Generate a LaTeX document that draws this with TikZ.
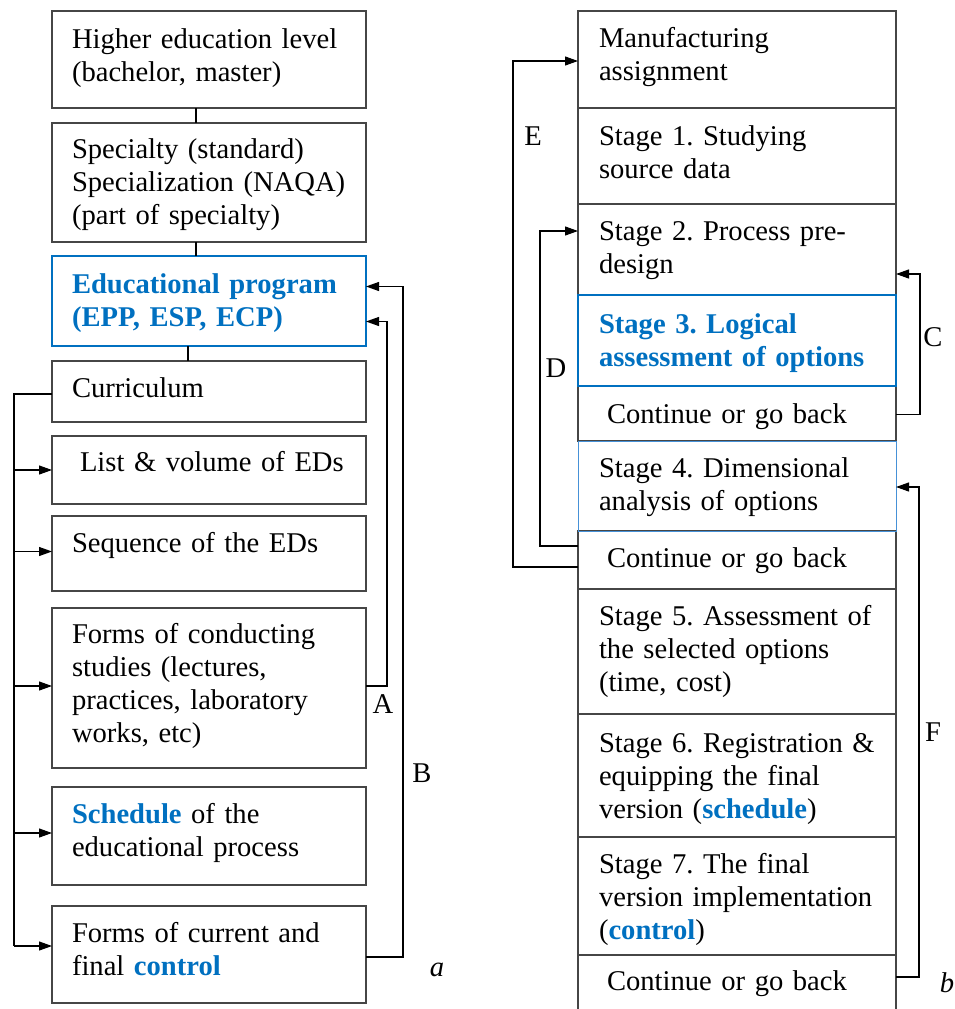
\documentclass[tikz,border=0pt]{standalone}
\usepackage{fontspec}
\setmainfont{Liberation Serif}
\usetikzlibrary{arrows.meta}
\definecolor{myblue}{RGB}{0,112,192}
\definecolor{lightblue}{RGB}{70,145,215}
\definecolor{boxgray}{RGB}{70,70,70}
\newcommand\mainf{\fontsize{28.6}{33}\selectfont\frenchspacing}
\begin{document}
\begin{tikzpicture}[x=1pt,y=-1pt,
  box/.style={draw=boxgray, line width=1.5pt, anchor=north west, inner sep=0pt, outer sep=0pt, minimum width=#1},
  box/.default=314pt,
  bbox/.style={box=#1, draw=myblue, line width=2.2pt},
  bbox/.default=314pt,
  lbbox/.style={box=#1, draw=lightblue, line width=0.9pt},
  lbbox/.default=318pt,
  txt/.style={anchor=north west, inner sep=0pt, outer sep=0pt, align=left, text width=300pt, font=\mainf, execute at begin node={\noindent\strut}},
  btxt/.style={txt, font=\mainf\bfseries, text=myblue},
  line/.style={draw=black, line width=1.1pt},
  arr/.style={line, -{Triangle[length=13pt,width=9pt]}},
  lbl/.style={inner sep=0pt, font=\mainf}
]
\useasboundingbox (0,0) rectangle (954,1009);
% ---------- left column ----------
\node[box, minimum height=97pt] (l1) at (52,11) {};
\node[box, minimum height=119pt] (l2) at (52,123) {};
\node[bbox, minimum height=90pt] (l3) at (52,256) {};
\node[box, minimum height=61pt] (l4) at (52,361) {};
\node[box, minimum height=68pt] (l5) at (52,436) {};
\node[box, minimum height=75pt] (l6) at (52,516) {};
\node[box, minimum height=160pt] (l7) at (52,608) {};
\node[box, minimum height=98pt] (l8) at (52,787) {};
\node[box, minimum height=97pt] (l9) at (52,906) {};

\node[txt] (l1t) at (72,24.9) {Higher education level\\(bachelor, master)};
\node[txt] (l2t) at (72,134.9) {Specialty (standard)\\Specialization (NAQA)\\(part of specialty)};
\node[btxt] (l3t) at (72,269.9) {Educational program\\(EPP, ESP, ECP)};
\node[txt] (l4t) at (72,373.9) {Curriculum};
\node[txt] (l5t) at (80,447.9) {List \& volume of EDs};
\node[txt] (l6t) at (72,528.9) {Sequence of the EDs};
\node[txt] (l7t) at (72,619.9) {Forms of conducting\\studies (lectures,\\practices, laboratory\\works, etc)};
\node[txt] (l8t) at (72,799.9) {{\color{myblue}\bfseries Schedule} of the\\educational process};
\node[txt] (l9t) at (72,918.9) {Forms of current and\\final {\color{myblue}\bfseries control}};

\draw[line] ([xshift=-13pt]l1.south) -- ([xshift=-13pt]l2.north);
\draw[line] ([xshift=-13pt]l2.south) -- ([xshift=-13pt]l3.north);
\draw[line] ([xshift=-21pt]l3.south) -- ([xshift=-21pt]l4.north);

\coordinate (bustop) at (14,394);
\coordinate (busbot) at (14,946);
\draw[line] ([yshift=-2.5pt]l4.west) -| (busbot);
\draw[arr] (l5.west -| bustop) -- (l5.west);
\draw[arr] ([yshift=2pt]l6.west -| bustop) -- ([yshift=2pt]l6.west);
\draw[arr] ([yshift=2pt]l7.west -| bustop) -- ([yshift=2pt]l7.west);
\draw[arr] ([yshift=3pt]l8.west -| bustop) -- ([yshift=3pt]l8.west);
\draw[arr] (busbot) -- (busbot -| l9.west);

\coordinate (Ax) at (387,500);
\coordinate (Bx) at (403,500);
\draw[arr] ([yshift=2pt]l7.east) -| (Ax) |- ([yshift=-20.5pt]l3.east);
\draw[arr] ([yshift=-2.5pt]l9.east) -| (Bx) |- ([yshift=14.5pt]l3.east);
\node[lbl] (labA) at (383,704) {A};
\node[lbl] (labB) at (422,773) {B};
\node[lbl] (laba) at (437,970) {\itshape a};

% ---------- right column ----------
\node[box=318pt, minimum height=97pt] (r0) at (578,11) {};
\node[box=318pt, minimum height=96pt] (r1) at (578,108) {};
\node[box=318pt, minimum height=91pt] (r2) at (578,204) {};
\node[box=318pt, minimum height=55pt] (r4) at (578,386) {};
\node[box=318pt, minimum height=58pt] (r6) at (578,531) {};
\node[box=318pt, minimum height=125pt] (r7) at (578,589) {};
\node[box=318pt, minimum height=123pt] (r8) at (578,714) {};
\node[box=318pt, minimum height=118pt] (r9) at (578,837) {};
\node[box=318pt, minimum height=62pt] (r10) at (578,955) {};
\node[lbbox, minimum height=90pt] (r5) at (578,441) {};
\node[bbox=318pt, minimum height=91pt] (r3) at (578,295) {};

\node[txt] (r0t) at (599,23.9) {Manufacturing\\assignment};
\node[txt] (r1t) at (599,121.9) {Stage 1. Studying\\source data};
\node[txt] (r2t) at (599,216.9) {Stage 2. Process pre-\\design};
\node[btxt] (r3t) at (599,309.9) {Stage 3. Logical\\assessment of options};
\node[txt] (r4t) at (607,399.9) {Continue or go back};
\node[txt] (r5t) at (599,453.9) {Stage 4. Dimensional\\analysis of options};
\node[txt] (r6t) at (607,543.9) {Continue or go back};
\node[txt] (r7t) at (599,601.9) {Stage 5. Assessment of\\the selected options\\(time, cost)};
\node[txt] (r8t) at (599,728.9) {Stage 6. Registration \&\\equipping the final\\version ({\color{myblue}\bfseries schedule})};
\node[txt] (r9t) at (599,849.9) {Stage 7. The final\\version implementation\\({\color{myblue}\bfseries control})};
\node[txt] (r10t) at (607,966.9) {Continue or go back};

\coordinate (Ex) at (513,300);
\coordinate (Dx) at (540,300);
\coordinate (Cx) at (920,300);
\coordinate (Fx) at (919,700);
\draw[arr] ([yshift=-7pt]r6.west) -| (Ex) |- ([yshift=-1.5pt]r0.west);
\draw[arr] ([yshift=14pt]r6.west) -| (Dx) |- ([yshift=18.5pt]r2.west);
\draw[arr] ([yshift=-1pt]r4.east) -| (Cx) |- ([yshift=-24.5pt]r2.east);
\draw[arr] ([yshift=9pt]r10.east) -| (Fx) |- ([yshift=-1pt]r5.east);
\node[lbl] (labE) at (533,136) {E};
\node[lbl] (labD) at (556,368) {D};
\node[lbl] (labC) at (933,337) {C};
\node[lbl] (labF) at (933,732) {F};
\node[lbl] (labb) at (947,983) {\itshape b};
\end{tikzpicture}
\end{document}
